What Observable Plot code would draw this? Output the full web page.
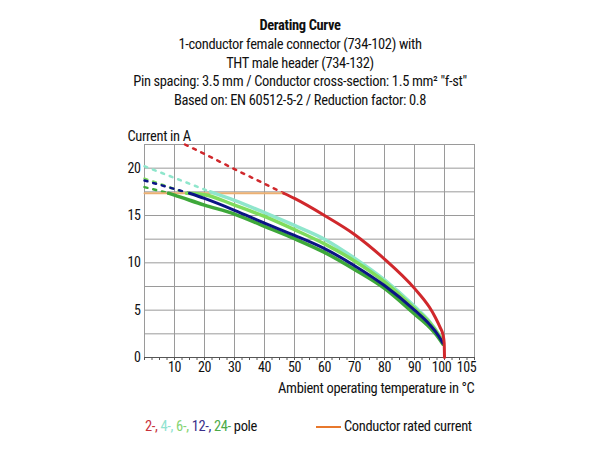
<!DOCTYPE html>
<html>
<head>
<meta charset="utf-8">
<script src="https://cdn.jsdelivr.net/npm/d3@7"></script>
<script src="https://cdn.jsdelivr.net/npm/@observablehq/plot@0.6"></script>
<style>
  html, body { margin: 0; padding: 0; background: #fff; }
  body { width: 600px; height: 450px; overflow: hidden; letter-spacing: -0.35px;
         font-family: "Liberation Sans Narrow", "Roboto Condensed", Roboto, sans-serif; color: #111; }
  #title { height: 108px; padding-top: 17px; box-sizing: border-box; text-align: center;
           font-size: 14.5px; line-height: 18.4px; }
  #title .t { font-weight: bold; margin-bottom: 1px; }
  #chart svg { display: block; }
  #legend { position: relative; height: 40px; font-size: 14.5px; }
  #legend span.item { position: absolute; top: 11px; line-height: 18px; white-space: nowrap; }
  #legend .swatch { position: absolute; top: 19px; height: 2px; width: 25px; background: #e8782c; }
</style>
</head>
<body>
<div id="title"></div>
<div id="chart"></div>
<div id="legend"></div>
<script>
// ---- text ----
const titleLines = [
  "Derating Curve",
  "1-conductor female connector (734-102) with",
  "THT male header (734-132)",
  "Pin spacing: 3.5 mm / Conductor cross-section: 1.5 mm\u00B2 \"f-st\"",
  "Based on: EN 60512-5-2 / Reduction factor: 0.8"
];
const yLabel = "Current in A";
const xLabel = "Ambient operating temperature in \u00B0C";
const legendPoles = ["2-,", "4-,", "6-,", "12-,", "24-"];
const legendPoleSuffix = "pole";
const legendRated = "Conductor rated current";

// ---- axes ----
const xTickLabels = [10, 20, 30, 40, 50, 60, 70, 80, 90];
const xTick100 = [100];
const xTick105 = [105];
const xGrid = [0, 10, 20, 30, 40, 50, 60, 70, 80, 90, 100, 110];
const xMinor = [0, 2.5, 5, 7.5, 10, 12.5, 15, 17.5, 20, 22.5, 25, 27.5, 30, 32.5, 35, 37.5, 40, 42.5, 45, 47.5, 50, 52.5, 55, 57.5, 60, 62.5, 65, 67.5, 70, 72.5, 75, 77.5, 80, 82.5, 85, 87.5, 90, 92.5, 95, 97.5, 100, 102.5, 105, 107.5, 110];
const yTickLabels = [0, 5, 10, 15, 20];
const yGrid = [0, 2.5, 5, 7.5, 10, 12.5, 15, 17.5, 20, 22.5];

// ---- series (temperature °C, current A) ----
const temps2 = [46.4, 50, 60, 70, 80, 90, 95, 97, 98.5, 99.5, 99.9, 100];
const pole2  = [17.35, 16.8, 15.0, 13.0, 10.4, 7.3, 5.3, 4.2, 3.2, 2.4, 1.5, 0];
const temps2ext = [13.5, 20, 30, 40, 46.4];
const pole2ext  = [22.5, 21.5, 19.9, 18.35, 17.35];

const temps4 = [22, 30, 40, 50, 60, 70, 80, 90, 95, 98, 99.5];
const pole4  = [17.5, 16.6, 15.3, 13.95, 12.5, 10.5, 8.2, 5.4, 3.8, 2.5, 1.7];
const temps4ext = [0, 22];
const pole4ext  = [20.2, 17.5];

const temps6 = [14, 20, 30, 40, 50, 60, 70, 80, 90, 95, 98, 99.5];
const pole6  = [17.35, 17.2, 16.1, 14.9, 13.5, 12.0, 10.2, 8.0, 5.2, 3.7, 2.4, 1.6];
const temps6ext = [0, 14];
const pole6ext  = [18.9, 17.35];

const temps12 = [15, 20, 30, 40, 50, 60, 70, 80, 90, 95, 98, 99.5];
const pole12  = [17.35, 16.8, 15.55, 14.2, 12.9, 11.5, 9.7, 7.6, 5.0, 3.5, 2.3, 1.5];
const temps12ext = [0, 15];
const pole12ext  = [18.7, 17.35];

const temps24 = [8, 10, 20, 30, 40, 50, 60, 70, 80, 90, 95, 98, 99.5];
const pole24  = [17.35, 17.15, 16.1, 15.15, 13.85, 12.55, 11.1, 9.3, 7.3, 4.6, 3.2, 2.1, 1.4];
const temps24ext = [0, 8];
const pole24ext  = [18.0, 17.35];

const ratedTemps = [0, 46.4];
const ratedCurrent = [17.35, 17.35];

// ---- colours ----
const colors = { p2: "#d0282c", p4: "#8fe6cc", p6: "#7fdc5c", p12: "#0b1485", p24: "#3ea83a",
                 rated: "#ecb072", ratedLegend: "#e8782c" };
const legendColors = ["#c8323c", "#8fe3d0", "#86d472", "#3a2f8a", "#4caa48"];

// ---- build ----
const rows = (ts, vs) => ts.map((t, i) => ({t, v: vs[i]}));

document.getElementById("title").innerHTML =
  titleLines.map((l, i) => `<div class="${i === 0 ? "t" : ""}">${l.replace(/&/g,"&amp;").replace(/</g,"&lt;")}</div>`).join("");

const solid = (ts, vs, stroke, w) =>
  Plot.line(rows(ts, vs), {x: "t", y: "v", stroke, strokeWidth: w, curve: "monotone-x"});
const dashed = (ts, vs, stroke, w) =>
  Plot.line(rows(ts, vs), {x: "t", y: "v", stroke, strokeWidth: w, strokeDasharray: "3,6"});

const chart = Plot.plot({
  width: 600,
  height: 299,
  marginLeft: 144,
  marginRight: 126,
  marginTop: 36,
  marginBottom: 50,
  style: { fontFamily: "'Liberation Sans Narrow', 'Roboto Condensed', Roboto, sans-serif", fontSize: "14.5px", color: "#111", background: "#fff", letterSpacing: "-0.35px" },
  x: { domain: [0, 110], label: null },
  y: { domain: [0, 22.5], label: null },
  marks: [
    Plot.ruleX(xGrid, {stroke: "#9a9a9a", strokeWidth: 1}),
    Plot.ruleY(yGrid, {stroke: "#9a9a9a", strokeWidth: 1}),
    Plot.ruleY([0], {stroke: "#555", strokeWidth: 1}),
    Plot.axisX({ticks: xMinor, tickSize: 3, tickFormat: () => "", stroke: "#555", label: null}),
    Plot.axisX({ticks: xTickLabels, tickSize: 0, tickPadding: 5, fontSize: 14, label: null}),
    Plot.axisX({ticks: xTick100, tickSize: 0, tickPadding: 5, fontSize: 14, dx: -3, label: null}),
    Plot.axisX({ticks: xTick105, tickSize: 0, tickPadding: 5, fontSize: 14, dx: 7, label: null}),
    Plot.axisY({ticks: yTickLabels, tickSize: 0, tickPadding: 4, fontSize: 14, label: null}),
    Plot.text([yLabel], {text: d => d, frameAnchor: "top-left", dx: -17, dy: -14, textAnchor: "start"}),
    Plot.text([xLabel], {text: d => d, frameAnchor: "bottom-right", dx: 0, dy: 35, textAnchor: "end"}),
    dashed(temps2ext, pole2ext, colors.p2, 2.5),
    dashed(temps4ext, pole4ext, colors.p4, 2.5),
    dashed(temps6ext, pole6ext, colors.p6, 2.5),
    dashed(temps12ext, pole12ext, colors.p12, 2.5),
    dashed(temps24ext, pole24ext, colors.p24, 2.5),
    Plot.line(rows(ratedTemps, ratedCurrent), {x: "t", y: "v", stroke: colors.rated, strokeWidth: 2}),
    solid(temps4, pole4, colors.p4, 3.5),
    solid(temps6, pole6, colors.p6, 3.5),
    solid(temps24, pole24, colors.p24, 3.5),
    solid(temps12, pole12, colors.p12, 3),
    solid(temps2, pole2, colors.p2, 3)
  ]
});
document.getElementById("chart").appendChild(chart);

const legend = document.getElementById("legend");
const poles = document.createElement("span");
poles.className = "item";
poles.style.left = "145px";
poles.innerHTML = legendPoles.map((p, i) => `<span style="color:${legendColors[i]}">${p}</span>`).join(" ") + " " + legendPoleSuffix;
legend.appendChild(poles);
const sw = document.createElement("div");
sw.className = "swatch";
sw.style.left = "316px";
sw.style.background = colors.ratedLegend;
legend.appendChild(sw);
const rated = document.createElement("span");
rated.className = "item";
rated.style.left = "344px";
rated.textContent = legendRated;
legend.appendChild(rated);
</script>
</body>
</html>
